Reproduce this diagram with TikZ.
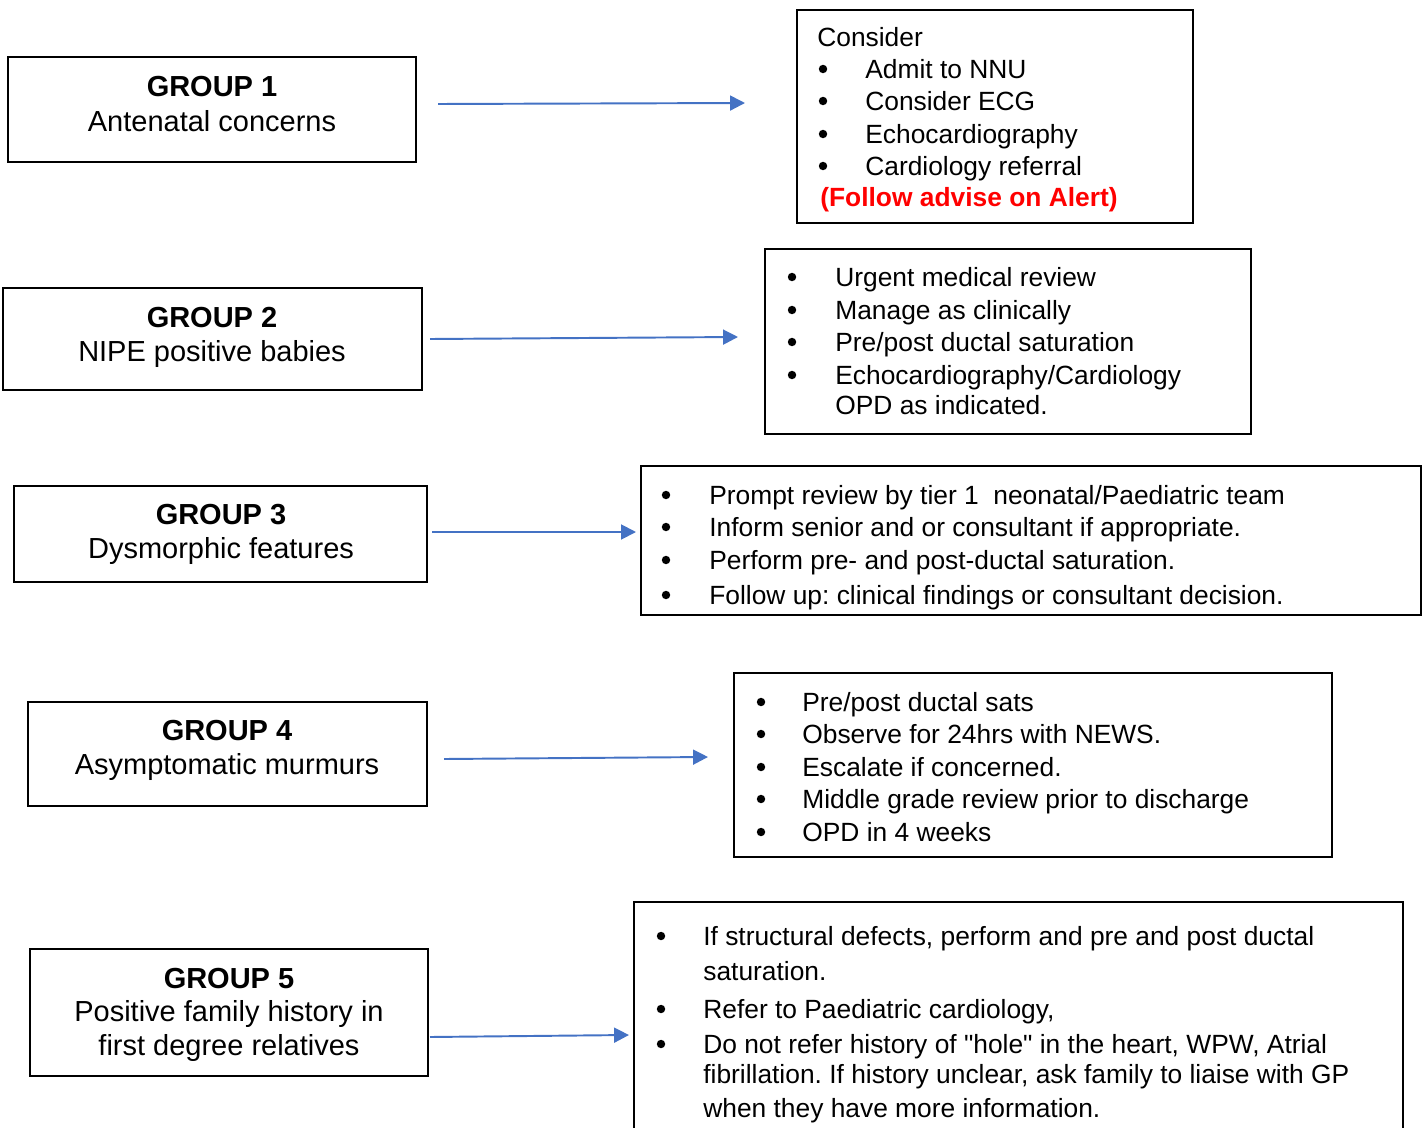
\documentclass[tikz,border=0pt]{standalone}
\usepackage{fontspec}
\setmainfont{Liberation Sans}[Ligatures=TeXOff]
\usetikzlibrary{arrows.meta,fit}
\definecolor{arrowblue}{HTML}{4472C4}
\definecolor{alertred}{HTML}{FF0000}
\frenchspacing

\begin{document}
\begin{tikzpicture}[x=0.02cm, y=-0.02cm,
	box/.style={draw, line width=1.1pt, inner sep=0pt},
	flow/.style={arrowblue, line width=1.1pt, -{Triangle[length=8.5pt, width=8.5pt]}},
	grp/.style={anchor=base, inner sep=0pt, font=\fontsize{16.5}{19}\selectfont},
	item/.style={anchor=base west, inner sep=0pt, font=\fontsize{15}{18}\selectfont},
	dot/.style={circle, fill, inner sep=0pt, minimum size=4.8pt, yshift=9.5*0.02cm}]
	\useasboundingbox (0,0) rectangle (1423,1128);
	
	% groups
	\node[box, fit={(8,57) (416,162)}] (g1) {};
	\node[box, fit={(3,288) (422,390)}] (g2) {};
	\node[box, fit={(14,486) (427,582)}] (g3) {};
	\node[box, fit={(28,702) (427,806)}] (g4) {};
	\node[box, fit={(30,949) (428,1076)}] (g5) {};
	
	\node[grp] (g1a) at (212,96.5) {\bfseries GROUP 1};
	\node[grp] (g1b) at (212,131.5) {Antenatal concerns};
	\node[grp] (g2a) at (212,327.5) {\bfseries GROUP 2};
	\node[grp] (g2b) at (212,361.5) {NIPE positive babies};
	\node[grp] (g3a) at (221,524.5) {\bfseries GROUP 3};
	\node[grp] (g3b) at (221,558.5) {Dysmorphic features};
	\node[grp] (g4a) at (227,740.5) {\bfseries GROUP 4};
	\node[grp] (g4b) at (227,774.5) {Asymptomatic murmurs};
	\node[grp] (g5a) at (229,988.5) {\bfseries GROUP 5};
	\node[grp] (g5b) at (229,1021.5) {Positive family history in};
	\node[grp] (g5c) at (229,1055.5) {first degree relatives};
	
	% actions
	\node[box, fit={(797,10) (1193,223)}] (r1) {};
	\node[box, fit={(765,249) (1251,434)}] (r2) {};
	\node[box, fit={(641,466) (1421,615)}] (r3) {};
	\node[box, fit={(734,673) (1332,857)}] (r4) {};
	\node[inner sep=0pt, fit={(634,902) (1403,1128)}] (r5) {};
	\draw[box] (r5.south west) -- (r5.north west) -- (r5.north east) -- (r5.south east);
	
	\node[item] (r1h) at (817,46.5) {Consider};
	\foreach \y/\t [count=\i] in {78.5/{Admit to NNU}, 110.5/{Consider ECG}, 143.5/{Echocardiography}, 175.5/{Cardiology referral}} {
		\node[dot] (r1d\i) at (823,\y) {};
		\node[item] (r1t\i) at (865,\y) {\t};
	}
	\node[item, text=alertred, font=\fontsize{15}{18}\selectfont\bfseries] (r1f) at (820,206.5) {(Follow advise on Alert)};
	
	\foreach \y/\t [count=\i] in {286.5/{Urgent medical review}, 319.5/{Manage as clinically}, 351.5/{Pre/post ductal saturation}, 384.5/{Echocardiography/Cardiology}} {
		\node[dot] (r2d\i) at (792,\y) {};
		\node[item] (r2t\i) at (835,\y) {\t};
	}
	\node[item] (r2t5) at (835,414.5) {OPD as indicated.};
	
	\foreach \y/\t [count=\i] in {504.5/{Prompt review by tier 1~ neonatal/Paediatric team}, 536.5/{Inform senior and or consultant if appropriate.}, 569.5/{Perform pre- and post-ductal saturation.}, 604.5/{Follow up: clinical findings or consultant decision.}} {
		\node[dot] (r3d\i) at (666,\y) {};
		\node[item] (r3t\i) at (709,\y) {\t};
	}
	
	\foreach \y/\t [count=\i] in {711.5/{Pre/post ductal sats}, 743.5/{Observe for 24hrs with NEWS.}, 776.5/{Escalate if concerned.}, 808.5/{Middle grade review prior to discharge}, 841.5/{OPD in 4 weeks}} {
		\node[dot] (r4d\i) at (761,\y) {};
		\node[item] (r4t\i) at (802,\y) {\t};
	}
	
	\foreach \y [count=\i] in {945.5,1018.5,1053.5}
		\node[dot] (r5d\i) at (661,\y) {};
	\foreach \y/\t [count=\i] in {945.5/{If structural defects, perform and pre and post ductal}, 980.5/{saturation.}, 1018.5/{Refer to Paediatric cardiology,}, 1053.5/{Do not refer history of "hole" in the heart, WPW, Atrial}, 1083.5/{fibrillation. If history unclear, ask family to liaise with GP}, 1117.5/{when they have more information.}} {
		\node[item] (r5t\i) at (703,\y) {\t};
	}
	
	% arrows
	\coordinate (a1) at (438,104);
	\coordinate (b1) at (745,103);
	\coordinate (a2) at (430,339);
	\coordinate (b2) at (738,337);
	\coordinate (a3) at (432,532);
	\coordinate (b3) at (636,532);
	\coordinate (a4) at (444,759);
	\coordinate (b4) at (708,757);
	\coordinate (a5) at (430,1037);
	\coordinate (b5) at (629,1035);
	\foreach \i in {1,...,5}
		\draw[flow] (a\i) -- (b\i);
\end{tikzpicture}
\end{document}
